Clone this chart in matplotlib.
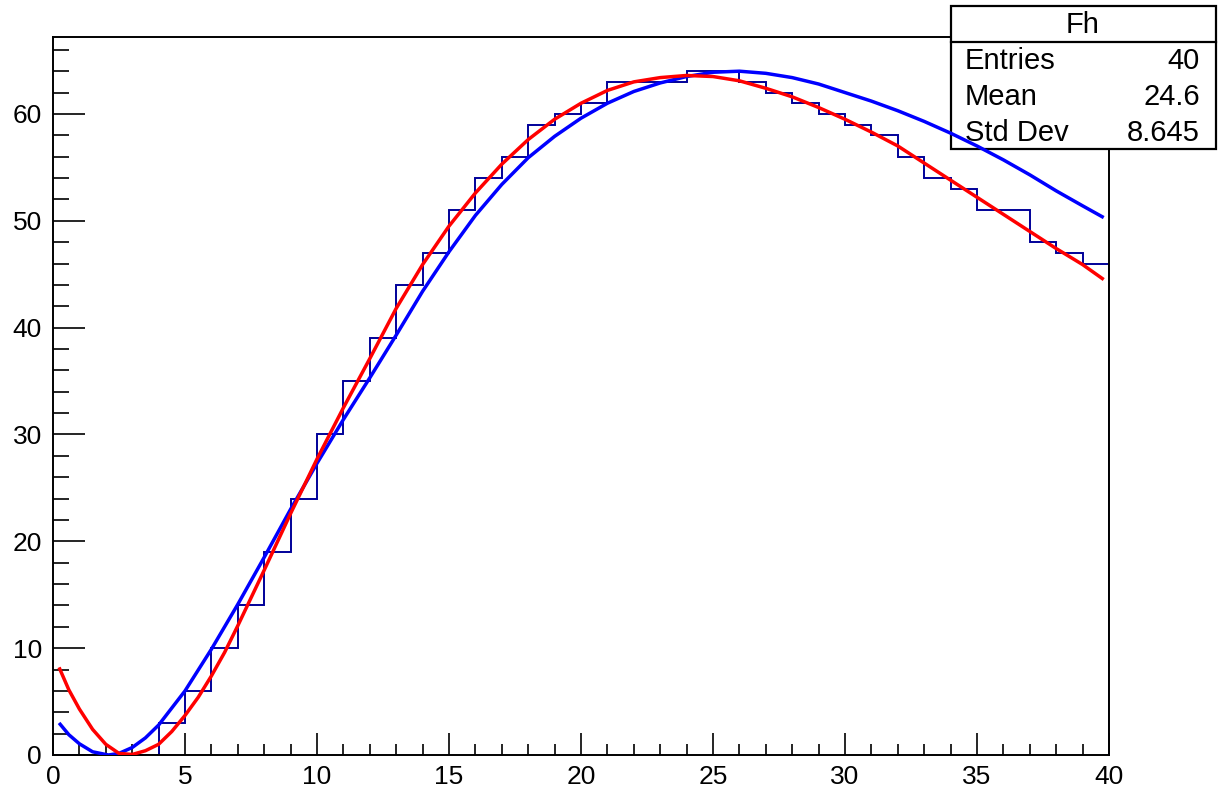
import matplotlib
matplotlib.use('Agg')
import matplotlib.pyplot as plt
from matplotlib.patches import Rectangle
from matplotlib.ticker import MultipleLocator
import numpy as np

plt.rcParams['font.family'] = ['Liberation Sans', 'DejaVu Sans']

# histogram "Fh": 40 bins of width 1 on [0, 40]
bin_edges = np.arange(0, 41, 1)
counts = [0, 0, 0, 0, 3, 6, 10, 14, 19, 24,
          30, 35, 39, 44, 47, 51, 54, 56, 59, 60,
          61, 63, 63, 63, 64, 64, 63, 62, 61, 60,
          59, 58, 56, 54, 53, 51, 51, 48, 47, 46]

# red fit curve
red_x = [0.23, 0.6, 1, 1.5, 2, 2.5, 3, 3.5, 4, 4.5, 5, 5.5, 6, 6.5, 7, 8, 9, 10,
         11, 12, 13, 14, 15, 16, 17, 18, 19, 20, 21, 22, 23, 24, 25, 26, 27, 28,
         29, 30, 31, 32, 33, 34, 35, 36, 37, 38, 39, 39.8]
red_y = [8.2, 6.1, 4.3, 2.4, 1.0, 0.15, 0.05, 0.4, 1.0, 2.2, 3.7, 5.4, 7.4, 9.6, 12.1,
         17.3, 22.6, 27.7, 32.5, 37.1, 41.8, 45.9, 49.5, 52.6, 55.3, 57.6, 59.5, 61.0,
         62.2, 63.0, 63.4, 63.6, 63.5, 63.1, 62.4, 61.6, 60.6, 59.5, 58.3, 57.0, 55.4,
         53.8, 52.2, 50.6, 49.0, 47.4, 45.9, 44.5]

# blue fit curve
blue_x = [0.23, 0.6, 1, 1.5, 2.1, 2.5, 3, 3.5, 4, 5, 6, 7, 8, 9, 10, 11, 12, 13,
          14, 15, 16, 17, 18, 19, 20, 21, 22, 23, 24, 25, 26, 27, 28, 29, 30, 31,
          32, 33, 34, 35, 36, 37, 38, 39, 39.8]
blue_y = [3.0, 1.9, 1.05, 0.3, 0.0, 0.15, 0.7, 1.6, 2.8, 6.0, 9.9, 14.1, 18.5, 23.0,
          27.3, 31.4, 35.3, 39.3, 43.4, 47.1, 50.5, 53.4, 55.9, 57.9, 59.6, 61.0, 62.1,
          62.9, 63.5, 63.9, 64.0, 63.8, 63.4, 62.8, 62.0, 61.2, 60.3, 59.3, 58.2, 57.0,
          55.7, 54.3, 52.8, 51.4, 50.3]

stats_rows = [("Entries", "40"), ("Mean", "24.6"), ("Std Dev", "8.645")]

W, H = 1223, 792
fig = plt.figure(figsize=(W / 100, H / 100), dpi=100)
ax_l, ax_r, ax_t, ax_b = 53, 1109, 37, 755
ax = fig.add_axes([ax_l / W, 1 - ax_b / H, (ax_r - ax_l) / W, (ax_b - ax_t) / H])


def pix(px, py):
    # pixel position in the picture -> axes fraction
    return (px - ax_l) / (ax_r - ax_l), (ax_b - py) / (ax_b - ax_t)


ax.stairs(counts, bin_edges, baseline=0, color='#000099', lw=1.4, zorder=2)
ax.plot(blue_x, blue_y, color='#0000ff', lw=2.5, zorder=3, solid_capstyle='butt')
ax.plot(red_x, red_y, color='#ff0000', lw=2.5, zorder=3, solid_capstyle='butt')

ax.set_xlim(0, 40)
ax.set_ylim(0, 67.2)
ax.xaxis.set_major_locator(MultipleLocator(5))
ax.xaxis.set_minor_locator(MultipleLocator(1))
ax.yaxis.set_major_locator(MultipleLocator(10))
ax.yaxis.set_minor_locator(MultipleLocator(2))
ax.tick_params(axis='x', which='major', direction='in', length=15.5, width=1.2,
               labelsize=19, pad=7)
ax.tick_params(axis='x', which='minor', direction='in', length=7.8, width=1.2)
ax.tick_params(axis='y', which='major', direction='in', length=23, width=1.2,
               labelsize=19, pad=8)
ax.tick_params(axis='y', which='minor', direction='in', length=11.5, width=1.2)
for s in ax.spines.values():
    s.set_linewidth(1.4)

# stats box
x0, y1 = pix(951, 6)
x1, y0 = pix(1216, 149)
ax.add_patch(Rectangle((x0, y0), x1 - x0, y1 - y0, transform=ax.transAxes,
                       facecolor='white', edgecolor='black', lw=1.6,
                       clip_on=False, zorder=2.6))
dx, dy = pix(951, 41.7)
ax.plot([x0, x1], [dy, dy], transform=ax.transAxes, color='black', lw=1.6,
        clip_on=False, zorder=2.7)
tx, ty = pix(1083, 25)
ax.text(tx, ty, "Fh", transform=ax.transAxes, ha='center', va='center',
        fontsize=21, zorder=2.8, clip_on=False)
for i, (name, val) in enumerate(stats_rows):
    lx, ly = pix(965, 61 + i * 36)
    rx, _ = pix(1200, 0)
    ax.text(lx, ly, name, transform=ax.transAxes, ha='left', va='center',
            fontsize=21, zorder=2.8, clip_on=False)
    ax.text(rx, ly, val, transform=ax.transAxes, ha='right', va='center',
            fontsize=21, zorder=2.8, clip_on=False)

fig.savefig('out.png', dpi=100)
